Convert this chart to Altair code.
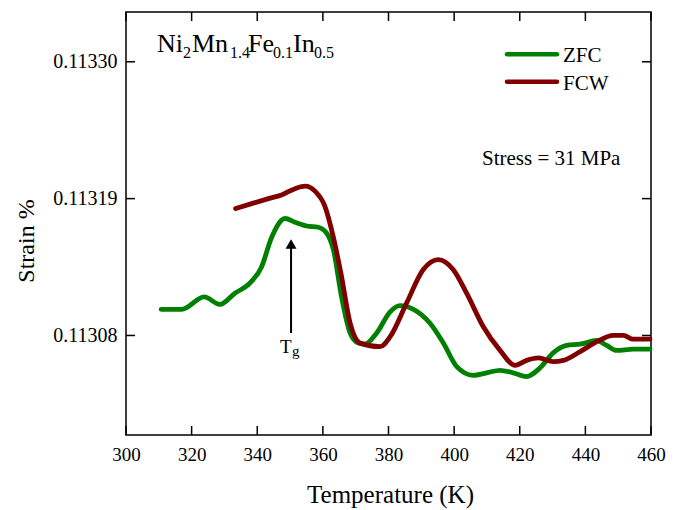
import altair as alt
import pandas as pd

FONT = "Times New Roman, Liberation Serif, DejaVu Serif, serif"

# ---- data ----
zfc_T = [310.7, 317.0, 323.8, 328.6, 333.2, 337.3, 341.3, 344.4, 348.5, 351.5, 355.1, 358.6,
         361.2, 363.2, 365.7, 368.3, 370.8, 372.8, 376.4, 380.5, 383.5, 387.6, 392.6, 396.7,
         400.8, 405.8, 409.9, 414.0, 418.0, 422.1, 426.2, 430.2, 434.3, 438.4, 443.5, 446.5,
         449.5, 454.6, 459.7]
zfc_S = [0.113101, 0.113101, 0.113111, 0.113105, 0.113114, 0.113121, 0.113135, 0.113159,
         0.113174, 0.113171, 0.113168, 0.113167, 0.113162, 0.113149, 0.113111, 0.113082,
         0.113074, 0.113073, 0.113082, 0.113099, 0.113104, 0.113101, 0.113090, 0.113074,
         0.113055, 0.113048, 0.113050, 0.113052, 0.113050, 0.113047, 0.113054, 0.113066,
         0.113072, 0.113073, 0.113076, 0.113072, 0.113068, 0.113069, 0.113069]

fcw_T = [333.4, 338.3, 343.4, 347.4, 351.5, 354.6, 357.6, 360.6, 363.2, 365.5, 368.3, 371.3,
         377.4, 380.5, 385.5, 390.6, 395.2, 399.7, 403.8, 408.9, 414.0, 418.6, 422.1, 425.7,
         430.2, 433.3, 438.4, 443.5, 448.5, 451.6, 454.6, 459.7]
fcw_S = [0.113182, 0.113186, 0.113190, 0.113193, 0.113198, 0.113200, 0.113196, 0.113184,
         0.113159, 0.113130, 0.113090, 0.113074, 0.113071, 0.113079, 0.113106, 0.113133,
         0.113141, 0.113133, 0.113114, 0.113087, 0.113068, 0.113056, 0.113060, 0.113062,
         0.113059, 0.113060, 0.113067, 0.113075, 0.113080, 0.113080, 0.113077, 0.113077]

series_names = ["ZFC", "FCW"]
series_colors = ["#008000", "#800000"]

x_ticks = [300, 320, 340, 360, 380, 400, 420, 440, 460]
y_ticks = [0.11308, 0.11319, 0.11330]
x_domain = [300, 460]
y_domain = [0.11300, 0.11334]

# Tg arrow (data coordinates)
tg_T = [350.3]
tg_bottom = [0.113082]
tg_top = [0.113152]
tg_head = [0.1131535]

W, H = 525, 423

df = pd.concat([
    pd.DataFrame({"T": zfc_T, "S": zfc_S, "series": "ZFC", "order": range(len(zfc_T))}),
    pd.DataFrame({"T": fcw_T, "S": fcw_S, "series": "FCW", "order": range(len(fcw_T))}),
])

xs = alt.Scale(domain=x_domain, nice=False, zero=False)
ys = alt.Scale(domain=y_domain, nice=False, zero=False)

x_axis = alt.Axis(values=x_ticks, format="d", title="Temperature (K)", grid=False,
                  domain=False, ticks=False, tickSize=0, labelFont=FONT, labelFontSize=19,
                  labelColor="black", labelPadding=25, labelBaseline="alphabetic",
                  labelFlush=False, labelOverlap=False,
                  titleFont=FONT, titleFontSize=25, titleFontWeight="normal", titleColor="black",
                  titleBaseline="alphabetic", titleY=67, titleX=264)
y_axis = alt.Axis(values=y_ticks, format=".5f", title="Strain %", grid=False,
                  domain=False, ticks=False, tickSize=0, labelFont=FONT, labelFontSize=20,
                  labelColor="black", labelPadding=9, labelFlush=False, labelOverlap=False,
                  titleFont=FONT, titleFontSize=24, titleFontWeight="normal", titleColor="black",
                  titleAngle=270, titleBaseline="alphabetic", titleAlign="center",
                  titleX=-93, titleY=228.5)

lines = alt.Chart(df).mark_line(strokeWidth=4.8, interpolate="monotone", strokeCap="round",
                                strokeJoin="round").encode(
    x=alt.X("T:Q", scale=xs, axis=x_axis),
    y=alt.Y("S:Q", scale=ys, axis=y_axis),
    color=alt.Color("series:N", scale=alt.Scale(domain=series_names, range=series_colors),
                    legend=None),
    detail="series:N",
    order="order:Q",
)

xt = pd.DataFrame({"T": x_ticks})
yt = pd.DataFrame({"S": y_ticks})
tick_style = dict(color="black", strokeWidth=1.5)
ticks_bottom = alt.Chart(xt).mark_rule(**tick_style).encode(
    x=alt.X("T:Q", scale=xs), y=alt.value(H), y2=alt.value(H - 9))
ticks_top = alt.Chart(xt).mark_rule(**tick_style).encode(
    x=alt.X("T:Q", scale=xs), y=alt.value(0), y2=alt.value(9))
ticks_left = alt.Chart(yt).mark_rule(**tick_style).encode(
    y=alt.Y("S:Q", scale=ys), x=alt.value(0), x2=alt.value(9))
ticks_right = alt.Chart(yt).mark_rule(**tick_style).encode(
    y=alt.Y("S:Q", scale=ys), x=alt.value(W), x2=alt.value(W - 9))

# Tg arrow
arrow_df = pd.DataFrame({"T": tg_T, "lo": tg_bottom, "hi": tg_top, "head": tg_head})
shaft = alt.Chart(arrow_df).mark_rule(color="black", strokeWidth=2).encode(
    x=alt.X("T:Q", scale=xs), y=alt.Y("lo:Q", scale=ys), y2="hi:Q")
head = alt.Chart(arrow_df).mark_point(shape="triangle-up", filled=True, color="black",
                                      size=120, opacity=1).encode(
    x=alt.X("T:Q", scale=xs), y=alt.Y("head:Q", scale=ys))

# text annotations
def txt(s, x, y, size, align="left", baseline="alphabetic"):
    return alt.Chart(pd.DataFrame({"t": [s]})).mark_text(
        font=FONT, fontSize=size, color="black", align=align, baseline=baseline
    ).encode(text="t:N", x=alt.value(x), y=alt.value(y))

formula_parts = [("Ni", 31, 40, 26), ("2", 57, 46, 16), ("Mn", 66, 40, 26), ("1.4", 104, 46, 16),
                 ("Fe", 122, 40, 26), ("0.1", 147, 46, 16), ("In", 167, 40, 26),
                 ("0.5", 188, 46, 16)]
texts = [txt(s, x, y, sz) for s, x, y, sz in formula_parts]
texts += [txt("T", 154, 341, 19), txt("g", 166, 344, 15)]
texts += [txt("Stress = 31 MPa", 356, 153, 21)]
texts += [txt("ZFC", 437, 50, 21), txt("FCW", 437, 78, 21)]

leg_df = pd.DataFrame({"series": series_names, "y": [42.3, 69.7]})
legend_lines = alt.Chart(leg_df).mark_rule(strokeWidth=4.5, strokeCap="round").encode(
    x=alt.value(381), x2=alt.value(431), y=alt.Y("y:Q", scale=None),
    color=alt.Color("series:N", scale=alt.Scale(domain=series_names, range=series_colors),
                    legend=None))

chart = alt.layer(
    lines, ticks_bottom, ticks_top, ticks_left, ticks_right, shaft, head, legend_lines, *texts
).properties(
    width=W, height=H,
    autosize=alt.AutoSizeParams(type="none"),
    padding={"left": 126, "top": 12, "right": 26, "bottom": 75},
    background="white",
).configure_view(stroke="black", strokeWidth=1.5)

chart.save("out.html", embed_options={"renderer": "svg", "actions": False})
